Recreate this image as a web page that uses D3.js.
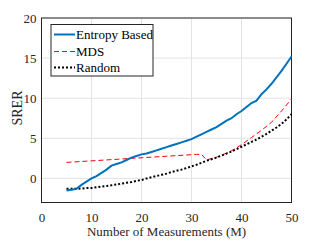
<!DOCTYPE html>
<html>
<head>
<meta charset="utf-8">
<script src="https://cdn.jsdelivr.net/npm/d3@7"></script>
<style>
  body{margin:0;background:#fff;}
  svg{display:block;}
  svg text{font-family:"Liberation Serif","Times New Roman",serif;}
</style>
</head>
<body>
<svg id="chart" width="322" height="240"></svg>
<script>
// data
var xTicks = [0,10,20,30,40,50]
	,yTicks = [0,5,10,15,20]
	,seriesNames = ['Entropy Based','MDS','Random'];

var entropyX = [5,6,7,8,9,10,11,12,13,14,15,16,17,18,19,20,21,22,23,24,25,26,27,28,29,30,31,32,33,34,35,36,37,38,39,40,41,42,43,44,45,46,47,48,49,50];
var entropyY = [-1.5,-1.4,-1.3,-0.8,-0.4,0.0,0.3,0.7,1.1,1.6,1.8,2.0,2.3,2.6,2.8,3.0,3.1,3.3,3.5,3.7,3.9,4.1,4.3,4.5,4.7,4.9,5.2,5.5,5.8,6.1,6.4,6.8,7.2,7.5,8.0,8.4,8.9,9.4,9.7,10.5,11.1,11.8,12.6,13.4,14.3,15.2];

var mdsX = [5,31,32,33,35,37,38,40,42,44,46,48,50];
var mdsY = [2.0,3.0,3.0,2.3,2.65,3.15,3.45,4.2,5.1,6.0,7.0,8.4,9.9];

var randomX = entropyX;
var randomY = [-1.3,-1.3,-1.3,-1.25,-1.2,-1.2,-1.1,-1.0,-0.95,-0.85,-0.75,-0.65,-0.55,-0.45,-0.3,-0.2,0.0,0.15,0.3,0.45,0.6,0.8,0.95,1.1,1.3,1.5,1.7,1.95,2.2,2.4,2.6,2.85,3.1,3.35,3.65,3.95,4.25,4.55,4.85,5.2,5.55,5.95,6.35,6.8,7.35,8.0];

var svg = d3.select('#chart')
	,mLeft = 41.5, mRight = 291.5, mTop = 18, mBottom = 202.5
	,serif = '"Liberation Serif","Times New Roman",serif';

var x = d3.scaleLinear().domain([0,50]).range([mLeft,mRight]);
var y = d3.scaleLinear().domain([-3,20]).range([mBottom,mTop]);

// grid
var grid = svg.append('g').attr('class','grid');
grid.selectAll('line.gx').data(xTicks).enter().append('line')
	.attr('x1',function(d){return x(d);}).attr('x2',function(d){return x(d);})
	.attr('y1',mTop).attr('y2',mBottom)
	.attr('stroke','#e3e3e3').attr('stroke-width',1);
grid.selectAll('line.gy').data(yTicks).enter().append('line')
	.attr('y1',function(d){return y(d);}).attr('y2',function(d){return y(d);})
	.attr('x1',mLeft).attr('x2',mRight)
	.attr('stroke','#e3e3e3').attr('stroke-width',1);

// axes
var xAxis = d3.axisBottom(x).tickValues(xTicks).tickSize(0).tickPadding(10);
var yAxis = d3.axisLeft(y).tickValues(yTicks).tickSize(0).tickPadding(5);
var gX = svg.append('g').attr('transform','translate(0,'+mBottom+')').call(xAxis);
var gY = svg.append('g').attr('transform','translate('+mLeft+',0)').call(yAxis);
[gX,gY].forEach(function(g){
	g.attr('font-family',serif).attr('font-size',13);
	g.select('.domain').remove();
	g.selectAll('text').attr('fill','#262626');
});

// box
svg.append('rect').attr('x',mLeft).attr('y',mTop).attr('width',mRight-mLeft).attr('height',mBottom-mTop)
	.attr('fill','none').attr('stroke','#262626').attr('stroke-width',1);

// lines
var line = d3.line().x(function(d){return x(d[0]);}).y(function(d){return y(d[1]);});
var zip = function(a,b){ return a.map(function(v,i){ return [v,b[i]]; }); };

svg.append('path').datum(zip(mdsX,mdsY)).attr('d',line)
	.attr('fill','none').attr('stroke','#ff0000').attr('stroke-width',1).attr('stroke-dasharray','5,3');
svg.append('path').datum(zip(randomX,randomY)).attr('d',line)
	.attr('fill','none').attr('stroke','#000').attr('stroke-width',2).attr('stroke-dasharray','2,2');
svg.append('path').datum(zip(entropyX,entropyY)).attr('d',line)
	.attr('fill','none').attr('stroke','#0072bd').attr('stroke-width',2);

// axis labels
svg.append('text').attr('x',(mLeft+mRight)/2).attr('y',236).attr('text-anchor','middle')
	.attr('font-size',13).attr('fill','#262626').text('Number of Measurements (M)');
svg.append('text').attr('transform','translate(22,108) rotate(-90)').attr('text-anchor','middle')
	.attr('font-size',14).attr('fill','#262626').text('SRER');

// legend
var leg = svg.append('g').attr('transform','translate(51,24.5)');
leg.append('rect').attr('width',102).attr('height',51.5).attr('fill','#fff').attr('stroke','#262626').attr('stroke-width',1);
var styles = [
	{c:'#0072bd',w:2,d:null},
	{c:'#ff0000',w:1,d:'5,3'},
	{c:'#000',w:2,d:'2,2'}
];
var ly = [10,27,43];
seriesNames.forEach(function(n,i){
	var l = leg.append('line').attr('x1',3).attr('x2',24).attr('y1',ly[i]).attr('y2',ly[i])
		.attr('stroke',styles[i].c).attr('stroke-width',styles[i].w);
	if(styles[i].d) l.attr('stroke-dasharray',styles[i].d);
	leg.append('text').attr('x',25).attr('y',ly[i]+4.5).attr('font-size',13).attr('fill','#000').text(n);
});
</script>
</body>
</html>
